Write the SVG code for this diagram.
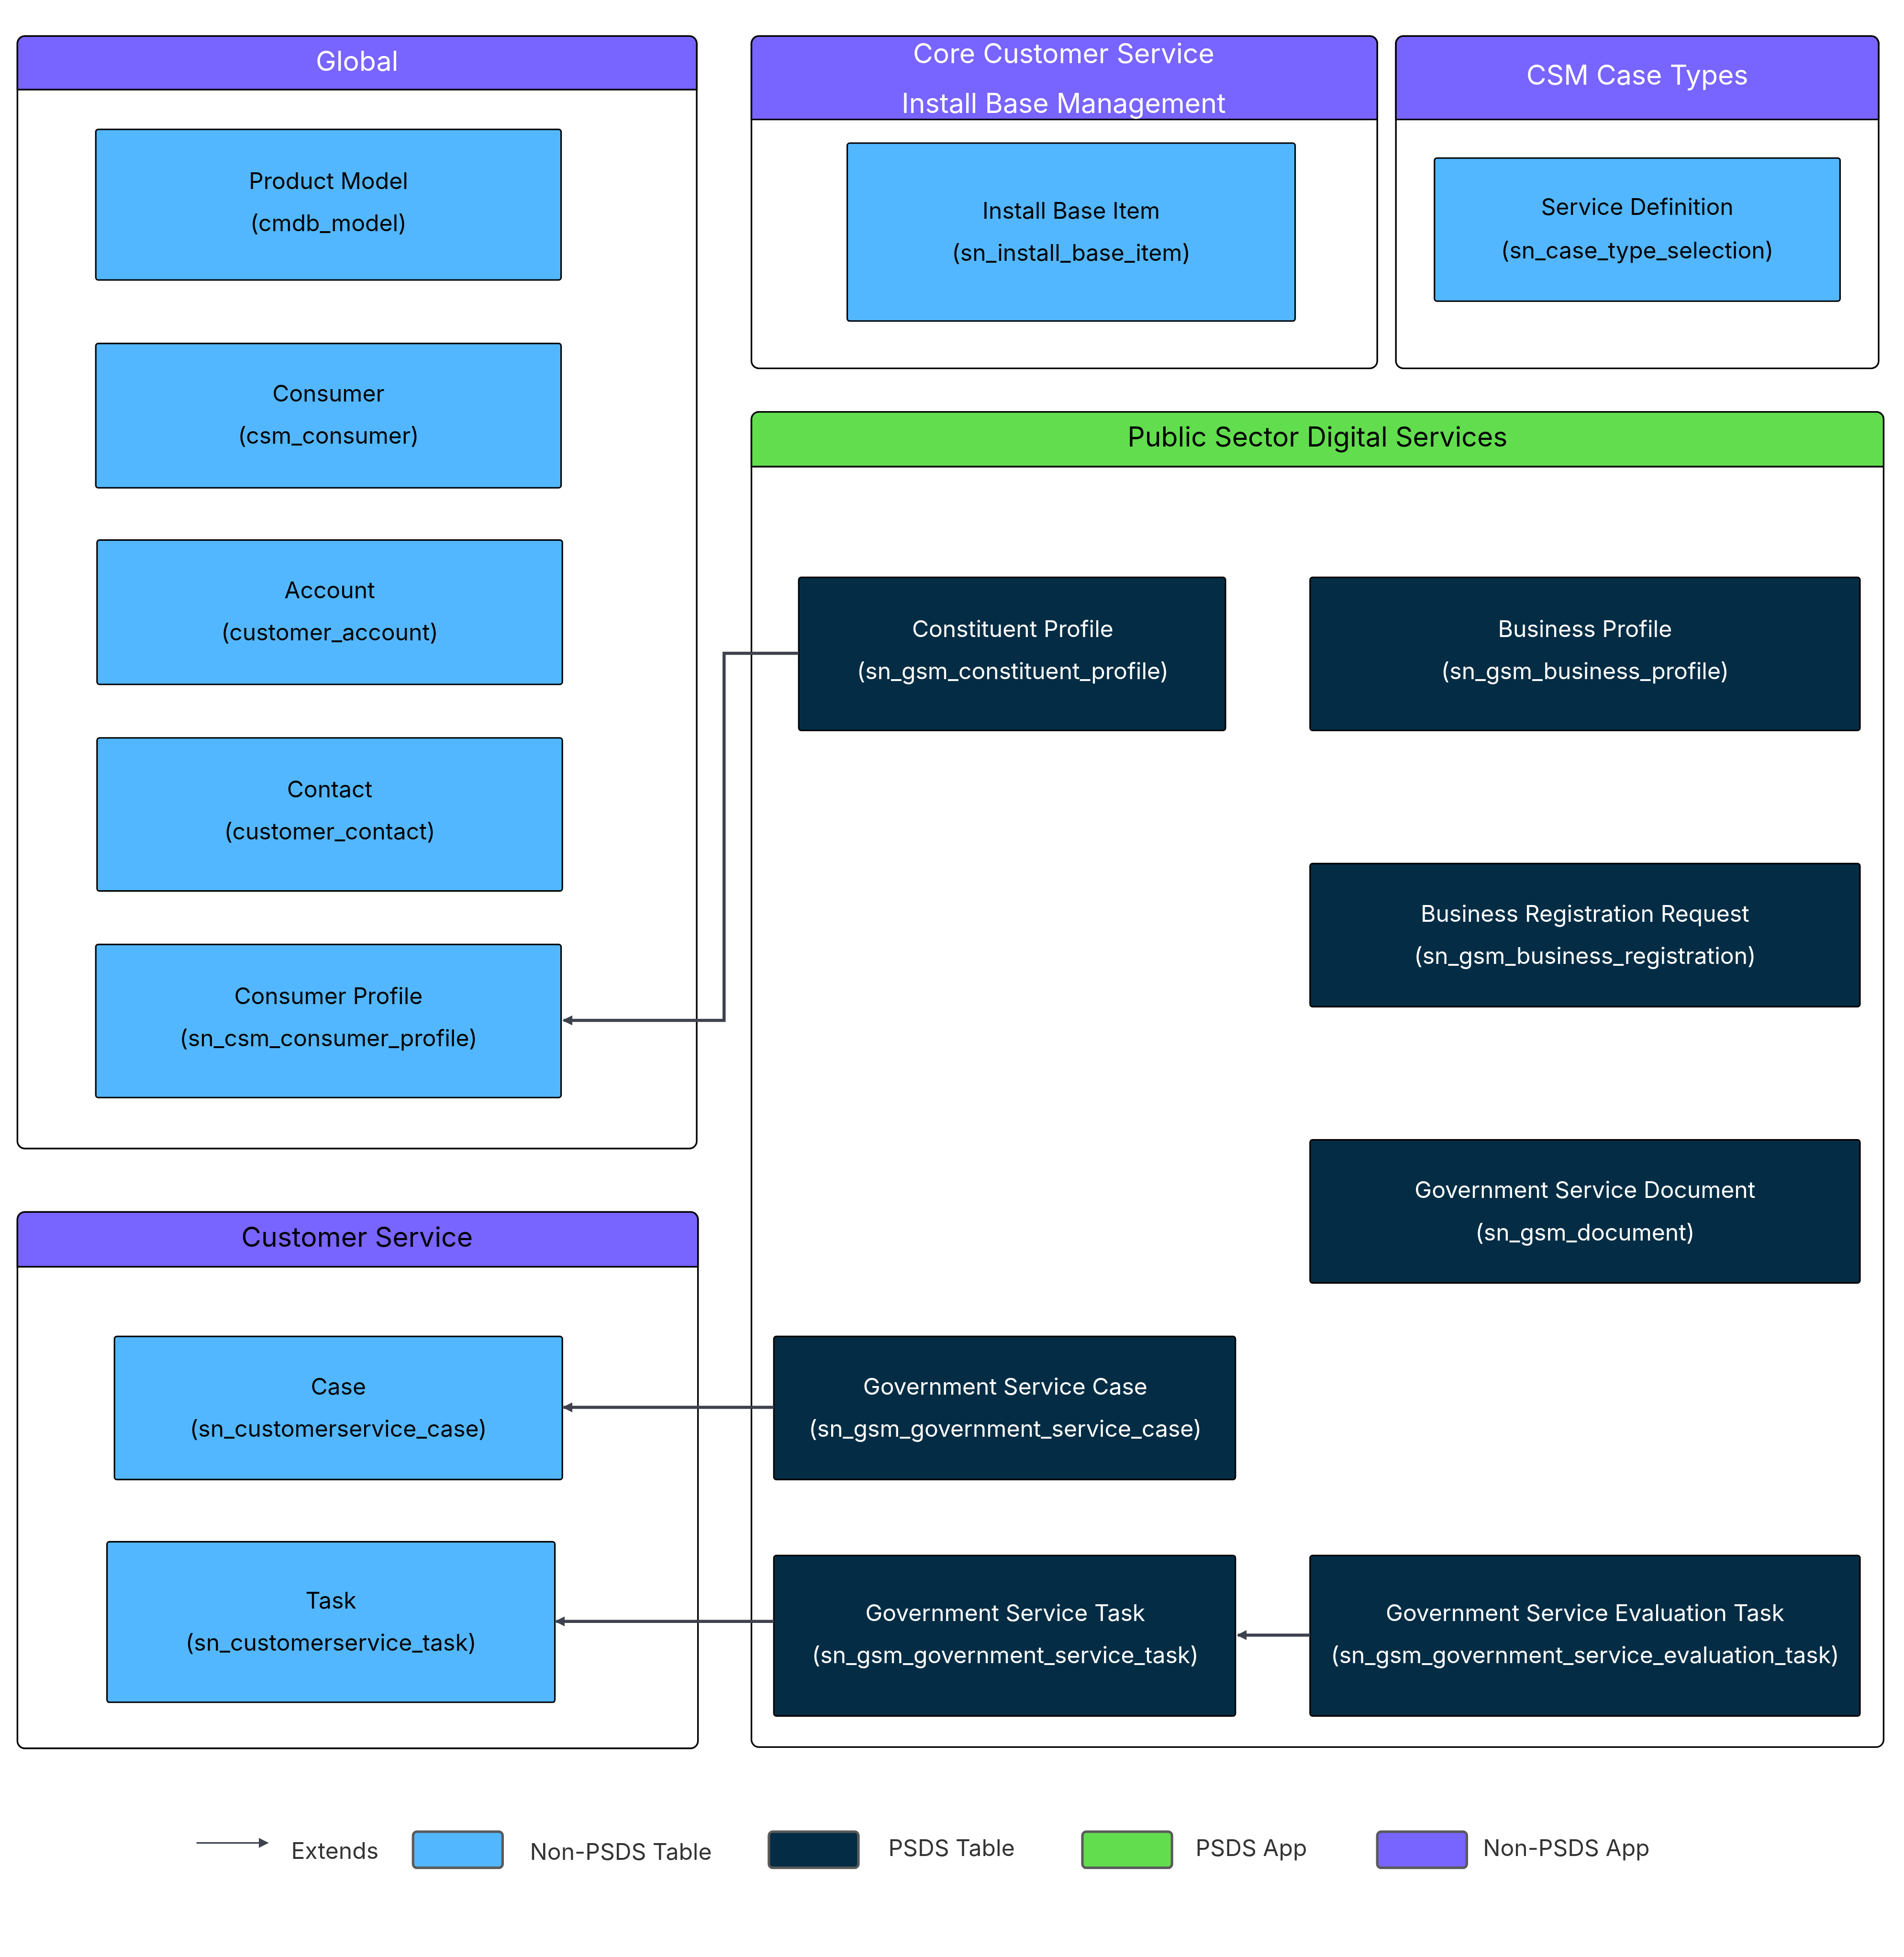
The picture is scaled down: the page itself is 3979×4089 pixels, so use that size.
<svg xmlns="http://www.w3.org/2000/svg" width="3979" height="4089" viewBox="0 0 3979 4089">
<style>
text{font-family:Inter,"Liberation Sans",sans-serif;text-anchor:middle;dominant-baseline:central}
.ct{fill:#fff;stroke:#000;stroke-width:1.3}
.h{stroke:#000;stroke-width:1.3}
.nb{fill:#52b7ff;stroke:#000;stroke-width:1.2}
.nd{fill:#042d45;stroke:#000;stroke-width:1.2}
.tb{font-size:18.5px;fill:#000}
.tw{font-size:18.5px;fill:#fff}
.hw{font-size:22px;fill:#fff}
.hk{font-size:22px;fill:#000}
.c{fill:none;stroke:#3d424d;stroke-width:2.5}
.lg{font-size:18.5px;fill:#333;text-anchor:start}
.sw{stroke:#5a5a5a;stroke-width:2}
</style>
<defs><marker id="a" markerWidth="8" markerHeight="8" refX="7" refY="4" orient="auto" markerUnits="userSpaceOnUse"><path d="M0,0L8,4L0,8z" fill="#3d424d"/></marker></defs>
<rect width="3979" height="4089" fill="#fff"/>
<g transform="scale(2.6)">
<g id="global">
<rect class="ct" x="14" y="29" width="546" height="894" rx="6"/>
<path class="h" d="M14,72V35a6,6 0 0 1 6-6H554a6,6 0 0 1 6,6V72z" fill="#7864ff"/>
<text class="hw" x="287" y="49">Global</text>
</g>
<g id="core">
<rect class="ct" x="604" y="29" width="503" height="267" rx="6"/>
<path class="h" d="M604,96V35a6,6 0 0 1 6-6H1101a6,6 0 0 1 6,6V96z" fill="#7864ff"/>
<text class="hw" x="855" y="43">Core Customer Service</text>
<text class="hw" x="855" y="83">Install Base Management</text>
</g>
<g id="csm">
<rect class="ct" x="1122" y="29" width="388" height="267" rx="6"/>
<path class="h" d="M1122,96V35a6,6 0 0 1 6-6H1504a6,6 0 0 1 6,6V96z" fill="#7864ff"/>
<text class="hw" x="1316" y="60">CSM Case Types</text>
</g>
<g id="psds">
<rect class="ct" x="604" y="331" width="910" height="1073" rx="6"/>
<path class="h" d="M604,375V337a6,6 0 0 1 6-6H1508a6,6 0 0 1 6,6V375z" fill="#62dd4e"/>
<text class="hk" x="1059" y="351">Public Sector Digital Services</text>
</g>
<g id="cs">
<rect class="ct" x="14" y="974" width="547" height="431" rx="6"/>
<path class="h" d="M14,1018V980a6,6 0 0 1 6-6H555a6,6 0 0 1 6,6V1018z" fill="#7864ff"/>
<text class="hk" x="287" y="994">Customer Service</text>
</g>
<g id="n1"><rect class="nb" x="77" y="104" width="374" height="121" rx="2"/><text class="tb" x="264" y="145">Product Model</text><text class="tb" x="264" y="179">(cmdb_model)</text></g>
<g id="n2"><rect class="nb" x="77" y="276" width="374" height="116" rx="2"/><text class="tb" x="264" y="316">Consumer</text><text class="tb" x="264" y="350">(csm_consumer)</text></g>
<g id="n3"><rect class="nb" x="78" y="434" width="374" height="116" rx="2"/><text class="tb" x="265" y="474">Account</text><text class="tb" x="265" y="508">(customer_account)</text></g>
<g id="n4"><rect class="nb" x="78" y="593" width="374" height="123" rx="2"/><text class="tb" x="265" y="634">Contact</text><text class="tb" x="265" y="668">(customer_contact)</text></g>
<g id="n5"><rect class="nb" x="77" y="759" width="374" height="123" rx="2"/><text class="tb" x="264" y="800">Consumer Profile</text><text class="tb" x="264" y="834">(sn_csm_consumer_profile)</text></g>
<g id="n6"><rect class="nb" x="681" y="115" width="360" height="143" rx="2"/><text class="tb" x="861" y="169">Install Base Item</text><text class="tb" x="861" y="203">(sn_install_base_item)</text></g>
<g id="n7"><rect class="nb" x="1153" y="127" width="326" height="115" rx="2"/><text class="tb" x="1316" y="166">Service Definition</text><text class="tb" x="1316" y="201">(sn_case_type_selection)</text></g>
<g id="n8"><rect class="nd" x="642" y="464" width="343" height="123" rx="2"/><text class="tw" x="814" y="505">Constituent Profile</text><text class="tw" x="814" y="539">(sn_gsm_constituent_profile)</text></g>
<g id="n9"><rect class="nd" x="1053" y="464" width="442" height="123" rx="2"/><text class="tw" x="1274" y="505">Business Profile</text><text class="tw" x="1274" y="539">(sn_gsm_business_profile)</text></g>
<g id="n10"><rect class="nd" x="1053" y="694" width="442" height="115" rx="2"/><text class="tw" x="1274" y="734">Business Registration Request</text><text class="tw" x="1274" y="768">(sn_gsm_business_registration)</text></g>
<g id="n11"><rect class="nd" x="1053" y="916" width="442" height="115" rx="2"/><text class="tw" x="1274" y="956">Government Service Document</text><text class="tw" x="1274" y="990">(sn_gsm_document)</text></g>
<g id="n12"><rect class="nd" x="622" y="1074" width="371" height="115" rx="2"/><text class="tw" x="808" y="1114">Government Service Case</text><text class="tw" x="808" y="1148">(sn_gsm_government_service_case)</text></g>
<g id="n13"><rect class="nd" x="622" y="1250" width="371" height="129" rx="2"/><text class="tw" x="808" y="1296">Government Service Task</text><text class="tw" x="808" y="1330">(sn_gsm_government_service_task)</text></g>
<g id="n14"><rect class="nd" x="1053" y="1250" width="442" height="129" rx="2"/><text class="tw" x="1274" y="1296">Government Service Evaluation Task</text><text class="tw" x="1274" y="1330">(sn_gsm_government_service_evaluation_task)</text></g>
<g id="n15"><rect class="nb" x="92" y="1074" width="360" height="115" rx="2"/><text class="tb" x="272" y="1114">Case</text><text class="tb" x="272" y="1148">(sn_customerservice_case)</text></g>
<g id="n16"><rect class="nb" x="86" y="1239" width="360" height="129" rx="2"/><text class="tb" x="266" y="1286">Task</text><text class="tb" x="266" y="1320">(sn_customerservice_task)</text></g>
<g id="connectors">
<path class="c" marker-end="url(#a)" d="M642,525H582V820H453"/>
<path class="c" marker-end="url(#a)" d="M622,1131H453"/>
<path class="c" marker-end="url(#a)" d="M622,1303H447"/>
<path class="c" marker-end="url(#a)" d="M1053,1314H995"/>
</g>
<g id="legend">
<path d="M158,1481H215" stroke="#3d424d" stroke-width="1.2" marker-end="url(#a)"/>
<text class="lg" x="234" y="1487">Extends</text>
<rect class="sw" x="332" y="1472" width="72" height="29" rx="3" fill="#52b7ff"/>
<text class="lg" x="426" y="1488">Non-PSDS Table</text>
<rect class="sw" x="618" y="1472" width="72" height="29" rx="3" fill="#042d45"/>
<text class="lg" x="714" y="1485">PSDS Table</text>
<rect class="sw" x="870" y="1472" width="72" height="29" rx="3" fill="#62dd4e"/>
<text class="lg" x="961" y="1485">PSDS App</text>
<rect class="sw" x="1107" y="1472" width="72" height="29" rx="3" fill="#7864ff"/>
<text class="lg" x="1192" y="1485">Non-PSDS App</text>
</g>
</g>
</svg>
